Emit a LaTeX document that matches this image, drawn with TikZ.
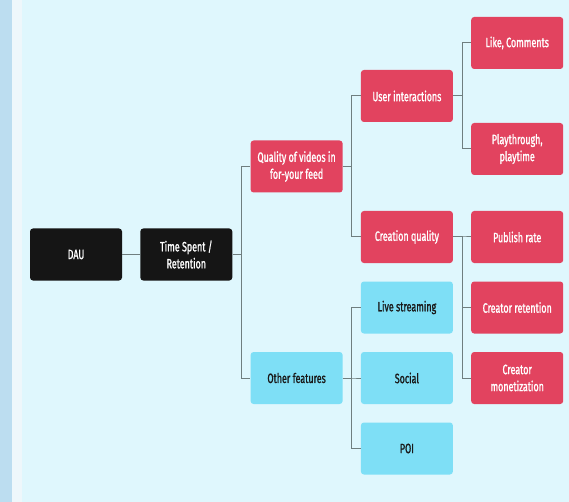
\documentclass[tikz,border=0pt]{standalone}
\usepackage{fontspec}
\setmainfont[FakeStretch=0.66,FakeBold=1.2]{Fira Sans}
\usetikzlibrary{positioning}

\definecolor{pagebg}{HTML}{DFF7FD}
\definecolor{stripbg}{HTML}{BCDDF0}
\definecolor{gapbg}{HTML}{EEF7FB}
\definecolor{metricred}{HTML}{E2435F}
\definecolor{featcyan}{HTML}{7EDFF6}
\definecolor{linkgray}{HTML}{6F7E7F}
\definecolor{topblack}{HTML}{151515}

\tikzset{
  box/.style={rectangle, rounded corners=3pt, minimum width=92pt, minimum height=52pt,
    align=center, inner sep=2pt, font=\fontsize{13.5}{17}\selectfont},
  topbox/.style={box, fill=topblack, text=white},
  redbox/.style={box, fill=metricred, text=white},
  cyanbox/.style={box, fill=featcyan, text=black!90},
  link/.style={draw=linkgray, line width=1pt},
  fork/.style={to path={-- ++(9,0) |- (\tikztotarget) \tikztonodes}}
}

\begin{document}
\begin{tikzpicture}[x=1pt,y=1pt,node distance=70.5pt and 110.3pt,on grid]
  \useasboundingbox (0,0) rectangle (569,-502);
  \fill[stripbg] (0,0) rectangle (12,-502);
  \fill[gapbg] (12,0) rectangle (22,-502);
  \fill[pagebg] (22,0) rectangle (569,-502);

  % metric tree
  \node[topbox] (dau) at (76,-254.5) {DAU};
  \node[topbox] (time) [right=of dau] {Time Spent /\\Retention};
  \node[redbox] (quality) [above right=88pt and 110.3pt of time] {Quality of videos in\\for-your feed};
  \node[cyanbox] (other) [below right=123.5pt and 110.3pt of time] {Other features};

  \node[redbox] (user) [above right=of quality] {User interactions};
  \node[redbox] (creation) [below right=of quality] {Creation quality};
  \node[redbox] (like) [above right=53pt and 110.3pt of user] {Like, Comments};
  \node[redbox] (play) [below right=53pt and 110.3pt of user] {Playthrough,\\playtime};

  \node[redbox] (publish) [right=of creation] {Publish rate};
  \node[redbox] (cretention) [below=of publish] {Creator retention};
  \node[redbox] (cmoney) [below=of cretention] {Creator\\monetization};

  \node[cyanbox] (social) [right=of other] {Social};
  \node[cyanbox] (live) [above=of social] {Live streaming};
  \node[cyanbox] (poi) [below=of social] {POI};

  \draw[link] (dau.east) -- (time.west);
  \path[link]
    (time.east) edge[fork] (quality.west)
                edge[fork] (other.west)
    (quality.east) edge[fork] (user.west)
                   edge[fork] (creation.west)
    (user.east) edge[fork] (like.west)
                edge[fork] (play.west)
    (creation.east) edge[fork] (publish.west)
                    edge[fork] (cretention.west)
                    edge[fork] (cmoney.west)
    (other.east) edge[fork] (live.west)
                 edge[fork] (social.west)
                 edge[fork] (poi.west);
\end{tikzpicture}
\end{document}
